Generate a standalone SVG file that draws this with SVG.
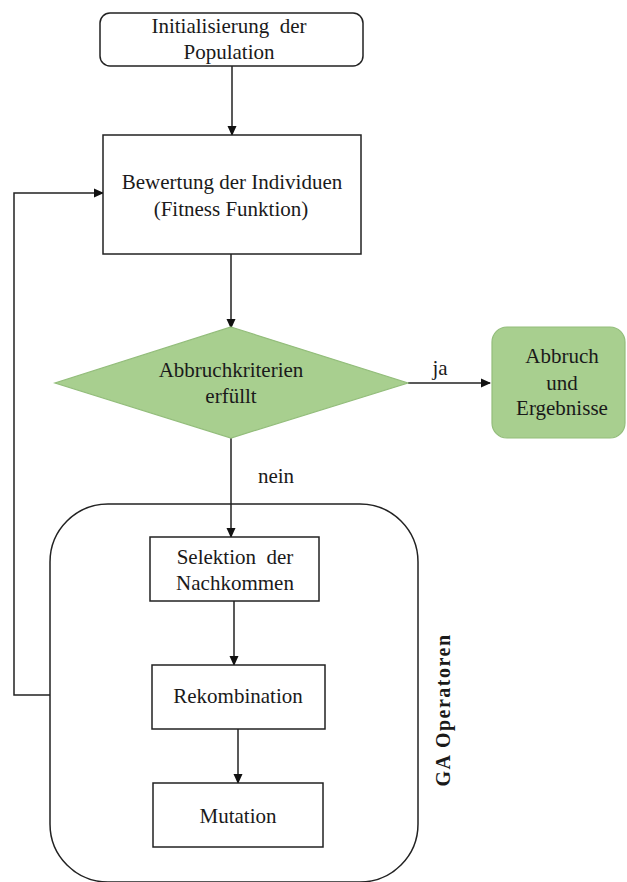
<svg xmlns="http://www.w3.org/2000/svg" width="627" height="882" viewBox="0 0 627 882">
  <style>
    .box { fill: #ffffff; stroke: #222222; stroke-width: 1.5; }
    .green { fill: #a8cf8f; stroke: #93bd7b; stroke-width: 1.2; }
    .lbl { font-family: "Liberation Serif", "Times New Roman", serif; font-size: 21px; fill: #1a1a1a; text-anchor: middle; white-space: pre; }
    .side { font-family: "Liberation Serif", "Times New Roman", serif; font-size: 20px; font-weight: bold; fill: #1a1a1a; text-anchor: middle; letter-spacing: 1.5px; }
    .edge { fill: none; stroke: #222222; stroke-width: 1.5; }
  </style>
  <defs>
    <marker id="arrow" markerWidth="10" markerHeight="10" refX="9" refY="5" orient="auto" markerUnits="userSpaceOnUse">
      <path d="M0,0.5 L10,5 L0,9.5 Z" fill="#111111"/>
    </marker>
  </defs>

  <rect width="627" height="882" fill="#ffffff"/>

  <!-- operator group container -->
  <g id="ga-operatoren">
    <rect x="50" y="504" width="368" height="378" rx="58" ry="58" class="box"/>
    <text class="side" transform="translate(450,710) rotate(-90)">GA Operatoren</text>
  </g>

  <!-- connectors -->
  <g id="connectors">
    <line x1="232" y1="66" x2="232" y2="135" class="edge" marker-end="url(#arrow)"/>
    <line x1="231" y1="254" x2="231" y2="328" class="edge" marker-end="url(#arrow)"/>
    <line x1="408" y1="383" x2="490" y2="383" class="edge" marker-end="url(#arrow)"/>
    <line x1="231" y1="438" x2="231" y2="537" class="edge" marker-end="url(#arrow)"/>
    <line x1="234" y1="601" x2="234" y2="665" class="edge" marker-end="url(#arrow)"/>
    <line x1="238" y1="729" x2="238" y2="783" class="edge" marker-end="url(#arrow)"/>
    <polyline points="50,695 14,695 14,193 103,193" class="edge" marker-end="url(#arrow)"/>
    <text class="lbl" x="440" y="375">ja</text>
    <text class="lbl" x="276" y="483">nein</text>
  </g>

  <g id="init">
    <rect x="100" y="13" width="263" height="53" rx="10" ry="10" class="box"/>
    <text class="lbl" x="229" y="33" xml:space="preserve">Initialisierung  der</text>
    <text class="lbl" x="229" y="59">Population</text>
  </g>

  <g id="bewertung">
    <rect x="103" y="135" width="258" height="119" class="box"/>
    <text class="lbl" x="232" y="189">Bewertung der Individuen</text>
    <text class="lbl" x="231" y="216">(Fitness Funktion)</text>
  </g>

  <g id="abbruchkriterien">
    <polygon points="231,327 408,383 231,438 55,383" class="green"/>
    <text class="lbl" x="231" y="377">Abbruchkriterien</text>
    <text class="lbl" x="231" y="403">erfüllt</text>
  </g>

  <g id="abbruch">
    <rect x="492" y="327" width="133" height="111" rx="15" ry="15" class="green"/>
    <text class="lbl" x="562" y="363">Abbruch</text>
    <text class="lbl" x="562" y="390">und</text>
    <text class="lbl" x="562" y="415">Ergebnisse</text>
  </g>

  <g id="selektion">
    <rect x="150" y="537" width="169" height="64" class="box"/>
    <text class="lbl" x="235" y="564" xml:space="preserve">Selektion  der</text>
    <text class="lbl" x="235" y="590">Nachkommen</text>
  </g>

  <g id="rekombination">
    <rect x="152" y="665" width="173" height="64" class="box"/>
    <text class="lbl" x="238" y="703">Rekombination</text>
  </g>

  <g id="mutation">
    <rect x="153" y="783" width="170" height="64" class="box"/>
    <text class="lbl" x="238" y="823">Mutation</text>
  </g>
</svg>
